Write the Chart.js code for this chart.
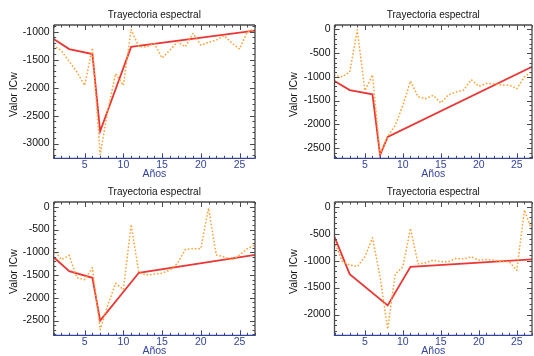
<!DOCTYPE html>
<html>
<head>
<meta charset="utf-8">
<script src="https://cdn.jsdelivr.net/npm/chart.js@4.4.1/dist/chart.umd.min.js"></script>
<style>
  html, body { margin: 0; padding: 0; background: #fff; overflow: hidden; width: 534px; height: 356px; position: relative; }
  canvas { position: absolute; }
</style>
</head>
<body>
<canvas id="c1" width="267" height="190" style="left:0;top:0"></canvas>
<canvas id="c2" width="267" height="190" style="left:267px;top:0"></canvas>
<canvas id="c3" width="267" height="190" style="left:0;top:177px"></canvas>
<canvas id="c4" width="267" height="190" style="left:267px;top:177px"></canvas>
<script>
// ── datos ──
const years = [1, 2, 3, 4, 5, 6, 7, 8, 9, 10, 11, 12, 13, 14, 15, 16, 17, 18, 19, 20, 21, 22, 23, 24, 25, 26, 27];
const xTicks = [5, 10, 15, 20, 25];

const orange1 = [-1250, -1340, -1530, -1720, -1960, -1290, -3200, -2400, -1750, -1960, -960, -1270, -1270, -1210,
                 -1470, -1330, -1180, -1270, -1030, -1240, -1190, -1150, -1070, -1200, -1310, -1000, -960];
const redX1 = [1, 3, 6, 7, 11, 27];
const redY1 = [-1130, -1310, -1400, -2780, -1270, -980];
const yTicks1 = [-1000, -1500, -2000, -2500, -3000];
const yRange1 = [-3263, -880];

const orange2 = [-970, -1000, -900, -10, -1290, -960, -2620, -2260, -2020, -1600, -1090, -1420, -1460, -1390,
                 -1550, -1380, -1320, -1280, -1060, -1200, -1140, -1150, -1175, -1175, -1250, -1000, -890];
const redX2 = [1, 3, 6, 7, 8, 27];
const redY2 = [-1090, -1280, -1370, -2650, -2265, -790];
const yTicks2 = [0, -500, -1000, -1500, -2000, -2500];
const yRange2 = [-2717, 91];

const orange3 = [-950, -1160, -1070, -1560, -1600, -1340, -2700, -2150, -1680, -1820, -390, -1450, -1500, -1480,
                 -1460, -1390, -1240, -940, -920, -920, -30, -1060, -1100, -1170, -1060, -920, -840];
const redX3 = [1, 3, 6, 7, 12, 27];
const redY3 = [-1110, -1415, -1560, -2500, -1450, -1055];
const yTicks3 = [0, -500, -1000, -1500, -2000, -2500];
const yRange3 = [-2823, 104];

const orange4 = [-650, -1010, -1080, -1110, -930, -576, -1300, -2270, -1250, -1115, -402, -1060, -1040, -990,
                 -1020, -1020, -960, -970, -930, -990, -980, -990, -1020, -1020, -1180, -60, -450];
const redX4 = [1, 3, 8, 11, 27];
const redY4 = [-560, -1250, -1830, -1115, -978];
const yTicks4 = [0, -500, -1000, -1500, -2000];
const yRange4 = [-2385, 87];

const FONT = "'Liberation Sans', Arial, Helvetica, sans-serif";
const BLUE = "#34449c";
const GRAY = "#4a4a4a";

// marco estilo IDL: ticks hacia adentro en los cuatro lados + textos
const frame = {
    id: "frame",
    afterDraw(chart) {
        const { ctx, chartArea: a, scales: { x, y } } = chart;
        const line = (x1, y1, x2, y2) => { ctx.beginPath(); ctx.moveTo(x1, y1); ctx.lineTo(x2, y2); ctx.stroke(); };
        ctx.save();
        ctx.lineWidth = 1;
        ctx.strokeStyle = GRAY;
        for (let v = Math.ceil(y.min / 100) * 100; v <= y.max; v += 100) {
            const py = Math.round(y.getPixelForValue(v)) + 0.5;
            const len = v % 500 === 0 ? 5 : 2.5;
            line(a.left, py, a.left + len, py);
            line(a.right, py, a.right - len, py);
        }
        for (const yr of years) {
            const px = Math.round(x.getPixelForValue(yr)) + 0.5;
            const len = yr % 5 === 0 ? 5 : 2.5;
            ctx.strokeStyle = GRAY;
            line(px, a.top, px, a.top + len);
            ctx.strokeStyle = BLUE;
            line(px, a.bottom, px, a.bottom - len);
        }
        // bordes
        ctx.lineWidth = 1.3;
        ctx.strokeStyle = GRAY;
        line(a.left, a.bottom, a.left, a.top);
        line(a.left, a.top, a.right, a.top);
        line(a.right, a.top, a.right, a.bottom);
        ctx.strokeStyle = BLUE;
        line(a.left - 0.6, a.bottom, a.right + 0.6, a.bottom);

        const cx = (a.left + a.right) / 2;
        ctx.textAlign = "center";
        ctx.textBaseline = "middle";
        ctx.fillStyle = "#111";
        ctx.font = "10px " + FONT;
        ctx.fillText("Trayectoria espectral", cx, 15.5);
        ctx.fillStyle = BLUE;
        ctx.font = "10.5px " + FONT;
        ctx.fillText("Años", cx, 174.5);
        ctx.fillStyle = "#111";
        ctx.translate(a.left - 40, (a.top + a.bottom) / 2 + 3);
        ctx.rotate(-Math.PI / 2);
        ctx.fillText("Valor ICw", 0, 0);
        ctx.restore();
    }
};

function panel(id, orange, redX, redY, yTicks, yRange, padLeft, padRight) {
    new Chart(document.getElementById(id), {
        type: "line",
        data: {
            datasets: [
                {
                    data: years.map((yr, i) => ({ x: yr, y: orange[i] })),
                    borderColor: "#ffa23a",
                    borderWidth: 1.7,
                    borderDash: [0.1, 3.4],
                    borderCapStyle: "round",
                    pointRadius: 0,
                    tension: 0
                },
                {
                    data: redX.map((yr, i) => ({ x: yr, y: redY[i] })),
                    borderColor: "#ec3535",
                    borderWidth: 1.8,
                    pointRadius: 0,
                    tension: 0
                }
            ]
        },
        options: {
            responsive: false,
            animation: false,
            layout: { padding: { left: padLeft - 45, right: padRight, top: 25, bottom: 31.7 - 16 } },
            plugins: { legend: { display: false }, tooltip: { enabled: false } },
            scales: {
                x: {
                    type: "linear",
                    min: 1,
                    max: 27,
                    grid: { display: false, drawTicks: false },
                    border: { display: false },
                    afterFit: s => { s.height = 16; },
                    afterBuildTicks: s => { s.ticks = xTicks.map(v => ({ value: v })); },
                    ticks: { color: BLUE, padding: 1, autoSkip: false, maxRotation: 0, font: { family: FONT, size: 10.5 },
                             callback: v => String(v) }
                },
                y: {
                    min: yRange[0],
                    max: yRange[1],
                    grid: { display: false, drawTicks: false },
                    border: { display: false },
                    afterFit: s => { s.width = 45; },
                    afterBuildTicks: s => { s.ticks = yTicks.map(v => ({ value: v })); },
                    ticks: { color: "#111", padding: 4, autoSkip: false, font: { family: FONT, size: 10.5 },
                             callback: v => String(v) }
                }
            }
        },
        plugins: [frame]
    });
}

panel("c1", orange1, redX1, redY1, yTicks1, yRange1, 53.7, 12);
panel("c2", orange2, redX2, redY2, yTicks2, yRange2, 67.5, 2);
panel("c3", orange3, redX3, redY3, yTicks3, yRange3, 53.7, 12);
panel("c4", orange4, redX4, redY4, yTicks4, yRange4, 67.5, 2);
</script>
</body>
</html>
